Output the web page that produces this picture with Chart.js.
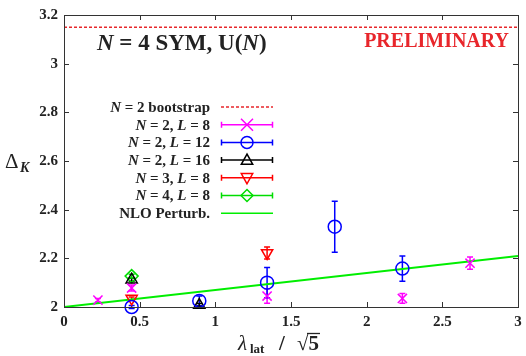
<!DOCTYPE html>
<html>
<head>
<meta charset="utf-8">
<script src="https://cdn.jsdelivr.net/npm/chart.js@4.4.0/dist/chart.umd.min.js"></script>
<style>
  html, body { margin: 0; padding: 0; background: #fff; }
  #wrap { width: 526px; height: 356px; }
</style>
</head>
<body>
<div id="wrap"><canvas id="myChart"></canvas></div>
<script>
// data //
const xTicks = [0, 0.5, 1, 1.5, 2, 2.5, 3];
const yTicks = [2, 2.2, 2.4, 2.6, 2.8, 3, 3.2];

const xBoot = [0, 3];
const yBoot = [3.15, 3.15];

const xN2L8 = [0.224, 0.447, 1.342, 2.236, 2.683];
const yN2L8 = [2.028, 2.078, 2.045, 2.035, 2.18];
const eN2L8 = [0.007, 0.012, 0.03, 0.02, 0.025];

const xN2L12 = [0.447, 0.894, 1.342, 1.789, 2.236];
const yN2L12 = [2.0, 2.025, 2.10, 2.33, 2.158];
const eN2L12 = [0.006, 0.02, 0.062, 0.105, 0.052];

const xN2L16 = [0.447, 0.894];
const yN2L16 = [2.112, 2.008];
const eN2L16 = [0.006, 0.006];

const xN3L8 = [0.447, 1.342];
const yN3L8 = [2.035, 2.222];
const eN3L8 = [0.006, 0.025];

const xN4L8 = [0.447];
const yN4L8 = [2.127];
const eN4L8 = [0.008];

const xNLO = [0, 3];
const yNLO = [2.0, 2.21];

const pts = (xs, ys, es) => xs.map((x, i) => ({x: x, y: ys[i], e: es ? es[i] : 0}));

const SERIF = '"Liberation Serif", "DejaVu Serif", serif';

// legend rows: text segments [text, italic]
const legendRows = [
  {segs: [["N", true], [" = 2 bootstrap", false]], ds: 0},
  {segs: [["N", true], [" = 2, ", false], ["L", true], [" = 8", false]], ds: 1},
  {segs: [["N", true], [" = 2, ", false], ["L", true], [" = 12", false]], ds: 2},
  {segs: [["N", true], [" = 2, ", false], ["L", true], [" = 16", false]], ds: 3},
  {segs: [["N", true], [" = 3, ", false], ["L", true], [" = 8", false]], ds: 4},
  {segs: [["N", true], [" = 4, ", false], ["L", true], [" = 8", false]], ds: 5},
  {segs: [["NLO Perturb.", false]], ds: 6}
];

function drawRich(ctx, segs, x, y, size, align) {
  let w = 0;
  segs.forEach(s => {
    ctx.font = (s[1] ? "italic " : "") + "bold " + size + "px " + SERIF;
    w += ctx.measureText(s[0]).width;
  });
  let cx = align === "right" ? x - w : (align === "center" ? x - w / 2 : x);
  ctx.textAlign = "left";
  segs.forEach(s => {
    ctx.font = (s[1] ? "italic " : "") + "bold " + size + "px " + SERIF;
    ctx.fillText(s[0], cx, y);
    cx += ctx.measureText(s[0]).width;
  });
}

function drawMarker(ctx, style, rot, r, x, y) {
  ctx.beginPath();
  if (style === "circle") {
    ctx.arc(x, y, r, 0, Math.PI * 2);
  } else if (style === "crossRot") {
    ctx.moveTo(x - r, y - r); ctx.lineTo(x + r, y + r);
    ctx.moveTo(x - r, y + r); ctx.lineTo(x + r, y - r);
  } else if (style === "triangle") {
    const s = rot ? -1 : 1;
    ctx.moveTo(x, y - s * r);
    ctx.lineTo(x - r * 0.95, y + s * r * 0.7);
    ctx.lineTo(x + r * 0.95, y + s * r * 0.7);
    ctx.closePath();
  } else if (style === "rectRot") {
    ctx.moveTo(x, y - r); ctx.lineTo(x + r, y); ctx.lineTo(x, y + r); ctx.lineTo(x - r, y);
    ctx.closePath();
  }
  ctx.stroke();
}

const decorPlugin = {
  id: "decor",
  beforeDatasetsDraw(chart) {
    const ctx = chart.ctx, xs = chart.scales.x, ys = chart.scales.y;
    // error bars
    chart.data.datasets.forEach(ds => {
      if (!ds.errBars) return;
      ctx.save();
      ctx.strokeStyle = ds.borderColor;
      ctx.lineWidth = 1.5;
      ds.data.forEach(p => {
        const px = xs.getPixelForValue(p.x);
        const top = ys.getPixelForValue(p.y + p.e);
        const bot = ys.getPixelForValue(p.y - p.e);
        ctx.beginPath();
        ctx.moveTo(px, top); ctx.lineTo(px, bot);
        ctx.moveTo(px - 3, top); ctx.lineTo(px + 3, top);
        ctx.moveTo(px - 3, bot); ctx.lineTo(px + 3, bot);
        ctx.stroke();
      });
      ctx.restore();
    });
  },
  afterDraw(chart) {
    const ctx = chart.ctx, a = chart.chartArea;
    const xs = chart.scales.x, ys = chart.scales.y;
    ctx.save();
    // frame and inward ticks
    ctx.strokeStyle = "#333";
    ctx.lineWidth = 1;
    ctx.strokeRect(a.left + 0.5, a.top + 0.5, a.right - a.left, a.bottom - a.top);
    ctx.beginPath();
    xTicks.forEach(t => {
      const px = Math.round(xs.getPixelForValue(t)) + 0.5;
      ctx.moveTo(px, a.bottom); ctx.lineTo(px, a.bottom - 5);
      ctx.moveTo(px, a.top); ctx.lineTo(px, a.top + 5);
    });
    yTicks.forEach(t => {
      const py = Math.round(ys.getPixelForValue(t)) + 0.5;
      ctx.moveTo(a.left, py); ctx.lineTo(a.left + 5, py);
      ctx.moveTo(a.right, py); ctx.lineTo(a.right - 5, py);
    });
    ctx.stroke();

    // tick labels
    ctx.fillStyle = "#222";
    ctx.font = "bold 15px " + SERIF;
    ctx.textBaseline = "middle";
    ctx.textAlign = "center";
    xTicks.forEach(t => ctx.fillText(String(t), xs.getPixelForValue(t), a.bottom + 15));
    ctx.textAlign = "right";
    yTicks.forEach(t => ctx.fillText(String(t), a.left - 6, ys.getPixelForValue(t)));

    // axis titles
    ctx.textBaseline = "alphabetic";
    ctx.textAlign = "left";
    ctx.font = "italic 21px " + SERIF;
    ctx.fillText("\u03bb", 238, 350);
    ctx.font = "bold 13px " + SERIF;
    ctx.fillText("lat", 250, 353);
    ctx.font = "bold 21px " + SERIF;
    ctx.fillText("/", 279, 350);
    ctx.fillText("\u221a5", 297, 350);
    ctx.beginPath();
    ctx.lineWidth = 1.3;
    ctx.strokeStyle = "#222";
    ctx.moveTo(307, 333.5); ctx.lineTo(320, 333.5);
    ctx.stroke();

    ctx.font = "21px " + SERIF;
    ctx.fillText("\u0394", 5, 168);
    ctx.font = "italic bold 14px " + SERIF;
    ctx.fillText("K", 20, 172);

    // title texts
    ctx.fillStyle = "#222";
    drawRich(ctx, [["N", true], [" = 4 SYM, U(", false], ["N", true], [")", false]], 97, 50, 23, "left");
    ctx.fillStyle = "#e8262b";
    ctx.font = "bold 20px " + SERIF;
    ctx.textAlign = "right";
    ctx.fillText("PRELIMINARY", 509, 47);

    // legend
    ctx.textBaseline = "middle";
    legendRows.forEach((row, i) => {
      const ds = chart.data.datasets[row.ds];
      const y = 107 + i * 17.7;
      ctx.fillStyle = "#222";
      drawRich(ctx, row.segs, 210, y + 1, 15, "right");
      ctx.strokeStyle = ds.borderColor;
      ctx.lineWidth = 1.5;
      ctx.setLineDash(ds.borderDash || []);
      ctx.beginPath();
      ctx.moveTo(221, y); ctx.lineTo(273, y);
      if (ds.errBars) {
        ctx.moveTo(221.5, y - 3); ctx.lineTo(221.5, y + 3);
        ctx.moveTo(272.5, y - 3); ctx.lineTo(272.5, y + 3);
      }
      ctx.stroke();
      ctx.setLineDash([]);
      if (ds.errBars) drawMarker(ctx, ds.pointStyle, ds.pointRotation, 6, 247, y);
    });
    ctx.restore();
  }
};

function series(label, data, color, style, rot) {
  return {
    label: label, data: data, errBars: true, showLine: false, clip: false,
    borderColor: color, backgroundColor: "rgba(0,0,0,0)",
    pointStyle: style, pointRotation: rot || 0,
    pointRadius: 6.5, pointBorderWidth: 1.5, pointHoverRadius: 6.5
  };
}

new Chart("myChart", {
  type: "scatter",
  data: {
    datasets: [
      {label: "N = 2 bootstrap", data: pts(xBoot, yBoot), showLine: true, borderColor: "#e8262b",
       borderWidth: 1.5, borderDash: [3, 2], pointRadius: 0},
      series("N = 2, L = 8", pts(xN2L8, yN2L8, eN2L8), "#ff00ff", "crossRot"),
      series("N = 2, L = 12", pts(xN2L12, yN2L12, eN2L12), "#0000ff", "circle"),
      series("N = 2, L = 16", pts(xN2L16, yN2L16, eN2L16), "#000000", "triangle"),
      series("N = 3, L = 8", pts(xN3L8, yN3L8, eN3L8), "#ff0000", "triangle", 180),
      series("N = 4, L = 8", pts(xN4L8, yN4L8, eN4L8), "#00dd00", "rectRot"),
      {label: "NLO Perturb.", data: pts(xNLO, yNLO), showLine: true, borderColor: "#00ee00",
       borderWidth: 2, pointRadius: 0}
    ]
  },
  options: {
    responsive: true,
    maintainAspectRatio: false,
    animation: false,
    layout: {padding: {top: 15, right: 8, left: 0, bottom: 0}},
    plugins: {legend: {display: false}, tooltip: {enabled: false}},
    scales: {
      x: {
        type: "linear", min: 0, max: 3,
        grid: {display: false}, border: {display: false},
        ticks: {display: false},
        afterFit: s => { s.height = 49; }
      },
      y: {
        type: "linear", min: 2, max: 3.2,
        grid: {display: false}, border: {display: false},
        ticks: {display: false},
        afterFit: s => { s.width = 64; }
      }
    }
  },
  plugins: [decorPlugin]
});
</script>
</body>
</html>
